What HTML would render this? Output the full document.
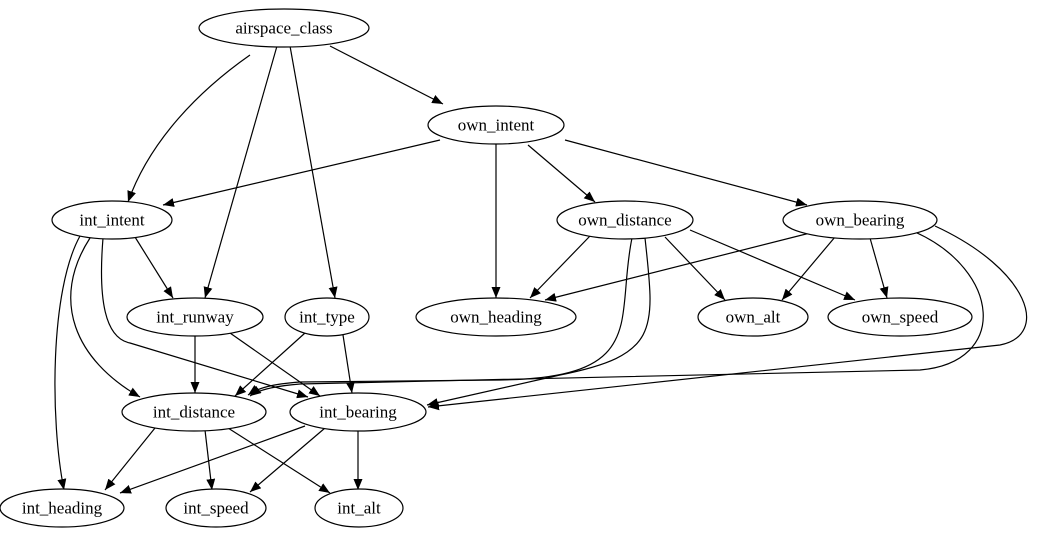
<!DOCTYPE html>
<html><head><meta charset="utf-8"><style>
html,body{margin:0;padding:0;background:#fff;width:1042px;height:539px;overflow:hidden}
text{font-family:"Liberation Serif",serif;font-size:17px;text-anchor:middle;dominant-baseline:central}
</style></head><body>
<svg width="1042" height="539" viewBox="0 0 1042 539" xmlns="http://www.w3.org/2000/svg">
<defs><marker id="a" markerWidth="11" markerHeight="9" refX="11" refY="4.5" orient="auto" markerUnits="userSpaceOnUse"><path d="M0,0 L11,4.5 L0,9 z" fill="#000"/></marker></defs>
<g fill="none" stroke="#000" stroke-width="1.2" marker-end="url(#a)">
<path d="M250,55 C200,90 150,140 128,202"/>
<path d="M277,46 L205,298"/>
<path d="M290,46 L335,298"/>
<path d="M330,46 L443,104"/>
<path d="M440,140 L163,205"/>
<path d="M496,143 L496,298"/>
<path d="M528,145 L595,202"/>
<path d="M565,140 L807,205"/>
<path d="M135,237 L173,298"/>
<path d="M80,236 C50,290 50,420 64,490"/>
<path d="M90,238 C50,300 75,360 140,397"/>
<path d="M103,238 C98,300 105,338 130,343 L308,397"/>
<path d="M590,236 L530,298"/>
<path d="M665,237 L725,300"/>
<path d="M690,230 L855,300"/>
<path d="M632,238 C615,320 650,378 500,380 L300,382 C272,384 258,388 248,395"/>
<path d="M645,238 C655,330 660,355 560,375 L427,405"/>
<path d="M810,233 L545,300"/>
<path d="M835,237 L782,300"/>
<path d="M870,238 L887,298"/>
<path d="M915,232 C1000,270 1010,362 920,370 L300,384 C275,386 258,390 250,396"/>
<path d="M935,226 C1030,270 1050,335 1000,345 L428,407"/>
<path d="M195,336 L195,393"/>
<path d="M230,333 L320,396"/>
<path d="M305,333 L235,396"/>
<path d="M343,335 L352,393"/>
<path d="M155,428 L105,490"/>
<path d="M205,430 L212,490"/>
<path d="M228,428 L330,493"/>
<path d="M305,426 L120,493"/>
<path d="M325,428 L250,492"/>
<path d="M358,430 L358,490"/>
</g>
<g fill="#fff" stroke="#000" stroke-width="1.2">
<ellipse cx="284" cy="28" rx="85" ry="19"/>
<ellipse cx="496" cy="125" rx="68" ry="19"/>
<ellipse cx="112" cy="220" rx="60" ry="19"/>
<ellipse cx="625" cy="220" rx="68" ry="19"/>
<ellipse cx="860" cy="220" rx="77" ry="19"/>
<ellipse cx="195" cy="317" rx="68" ry="19"/>
<ellipse cx="327" cy="317" rx="42" ry="19"/>
<ellipse cx="496" cy="317" rx="80" ry="19"/>
<ellipse cx="753" cy="317" rx="55" ry="19"/>
<ellipse cx="900" cy="317" rx="72" ry="19"/>
<ellipse cx="194" cy="412" rx="72" ry="19"/>
<ellipse cx="358" cy="412" rx="68" ry="19"/>
<ellipse cx="62" cy="508" rx="62" ry="19"/>
<ellipse cx="216" cy="508" rx="50" ry="19"/>
<ellipse cx="359" cy="508" rx="44" ry="19"/>
</g>
<g fill="#000">
<text x="284" y="28">airspace_class</text>
<text x="496" y="125">own_intent</text>
<text x="112" y="220">int_intent</text>
<text x="625" y="220">own_distance</text>
<text x="860" y="220">own_bearing</text>
<text x="195" y="317">int_runway</text>
<text x="327" y="317">int_type</text>
<text x="496" y="317">own_heading</text>
<text x="753" y="317">own_alt</text>
<text x="900" y="317">own_speed</text>
<text x="194" y="412">int_distance</text>
<text x="358" y="412">int_bearing</text>
<text x="62" y="508">int_heading</text>
<text x="216" y="508">int_speed</text>
<text x="359" y="508">int_alt</text>
</g>
</svg>
</body></html>
